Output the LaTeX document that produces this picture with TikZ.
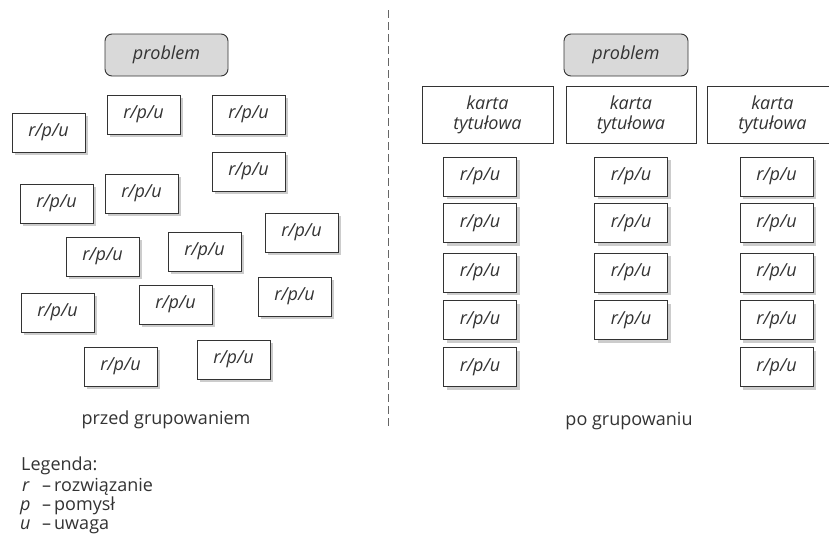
\documentclass[tikz,border=0pt]{standalone}
\usepackage{fontspec}
\setmainfont{Open Sans}
\usetikzlibrary{shadows}
\definecolor{ink}{HTML}{333333}
\definecolor{shade}{HTML}{CCCCCC}
\definecolor{probfill}{HTML}{D9D9D9}
\newcommand{\bigtext}{\fontsize{18}{21}\selectfont}
\tikzset{
  card/.style={draw=ink, line width=0.9pt, fill=white, minimum width=73pt, minimum height=39pt,
    inner sep=0pt, font=\bigtext\itshape, text=ink,
    drop shadow={shadow xshift=3pt, shadow yshift=-3pt, fill=shade, opacity=1}},
  probbox/.style={draw=ink, line width=0.9pt, fill=probfill, rounded corners=7pt,
    minimum width=123pt, minimum height=42pt, inner sep=0pt, font=\bigtext\itshape, text=ink},
  titlebox/.style={draw=ink, line width=0.9pt, fill=white, minimum width=131pt, minimum height=57pt,
    inner sep=0pt, font=\bigtext\itshape, text=ink, align=center},
  lbl/.style={text=ink, inner sep=0pt, font=\bigtext},
  lblit/.style={text=ink, inner sep=0pt, font=\bigtext\itshape},
}
\begin{document}
\begin{tikzpicture}[x=1pt, y=-1pt]
\useasboundingbox (0,0) rectangle (829,544);
\clip (0,0) rectangle (829,544);
\fill[white] (0,0) rectangle (829,544);

% left side
\node[probbox] (pl) at (166.5,55) {problem};
\node[card] (l1) at (143.5,114.5) {r/p/u};
\node[card] (l2) at (248.5,114.5) {r/p/u};
\node[card] (l3) at (48.5,132.5) {r/p/u};
\node[card] (l4) at (248.5,171.5) {r/p/u};
\node[card] (l5) at (56.5,203.5) {r/p/u};
\node[card] (l6) at (141.5,193.5) {r/p/u};
\node[card] (l7) at (301.5,232.5) {r/p/u};
\node[card] (l8) at (102.5,256.5) {r/p/u};
\node[card] (l9) at (204.5,251.5) {r/p/u};
\node[card] (l10) at (57.5,312.5) {r/p/u};
\node[card] (l11) at (175.5,304.5) {r/p/u};
\node[card] (l12) at (294.5,296.5) {r/p/u};
\node[card] (l13) at (120.5,366.5) {r/p/u};
\node[card] (l14) at (233.5,359.5) {r/p/u};
\node[lbl] (before) at (166,420) {przed grupowaniem};

% divider
\coordinate (dtop) at (388.5,10);
\coordinate (dbot) at (388.5,428);
\draw[black!60, line width=1.3pt, dash pattern=on 8pt off 4pt] (dtop) -- (dbot);

% right side
\node[probbox, minimum width=124pt] (pr) at (626,55) {problem};
\node[titlebox] (k1) at (487.5,114.5) {karta\\[-1pt]tytułowa};
\node[titlebox, minimum width=130pt] (k2) at (631,114.5) {karta\\[-1pt]tytułowa};
\node[titlebox] (k3) at (772.5,114.5) {karta\\[-1pt]tytułowa};

\foreach \y [count=\i] in {176.5,223,272.5,320,367} {
  \node[card] (a\i) at (480,\y) {r/p/u};
  \node[card] (c\i) at (776.5,\y) {r/p/u};
}
\foreach \y [count=\i] in {176.5,223,272.5,320} {
  \node[card] (b\i) at (631,\y) {r/p/u};
}
\node[lbl] (after) at (629,421) {po grupowaniu};

% legend
\node[lbl, anchor=base west] (leg) at (21,470) {Legenda:};
\node[lblit, anchor=base west] (lr) at (22,491) {r};
\node[lbl, anchor=base west] (lrt) at (42,491) {–\,rozwiązanie};
\node[lblit, anchor=base west] (lp) at (20,510) {p};
\node[lbl, anchor=base west] (lpt) at (42,510) {–\,pomysł};
\node[lblit, anchor=base west] (lu) at (20,529) {u};
\node[lbl, anchor=base west] (lut) at (42,529) {–\,uwaga};
\end{tikzpicture}
\end{document}
